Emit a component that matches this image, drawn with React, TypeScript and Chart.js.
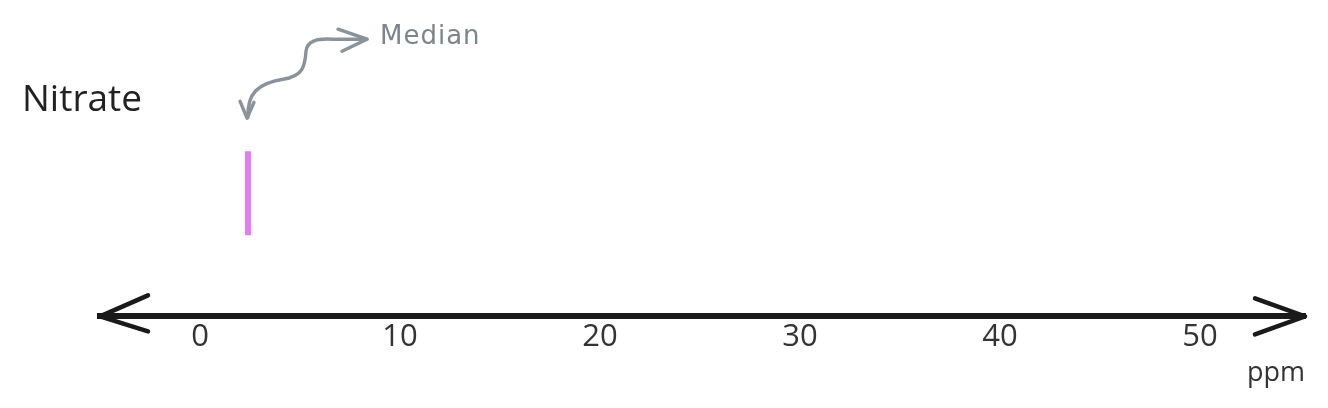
import React, { useEffect, useRef } from "react";
import { Chart, registerables } from "chart.js";

Chart.register(...registerables);

const categories = ["Nitrate"];
const medianValues = [2.4];
const tickValues = [0, 10, 20, 30, 40, 50];
const axisUnit = "ppm";
const annotationText = "Median";
const axisMin = -5;
const axisMax = 55.25;

const FONT = "'Open Sans', 'Noto Sans', sans-serif";

const decorPlugin = {
  id: "decor",
  afterDraw(chart: any) {
    const { ctx, chartArea } = chart;
    ctx.save();
    // axis arrowheads
    const ay = chartArea.bottom;
    ctx.strokeStyle = "#1a1a1a";
    ctx.lineWidth = 4.5;
    ctx.lineCap = "round";
    ctx.lineJoin = "round";
    const l = chartArea.left;
    const r = chartArea.right;
    ctx.beginPath();
    ctx.moveTo(l + 48, ay - 21);
    ctx.lineTo(l, ay);
    ctx.lineTo(l + 48, ay + 15);
    ctx.stroke();
    ctx.beginPath();
    ctx.moveTo(r - 50, ay - 18);
    ctx.lineTo(r, ay);
    ctx.lineTo(r - 50, ay + 18);
    ctx.stroke();

    // category label
    ctx.fillStyle = "#222";
    ctx.font = `37px ${FONT}`;
    ctx.textBaseline = "middle";
    ctx.textAlign = "left";
    ctx.fillText(categories[0], 14, 92);

    // median annotation
    const meta = chart.getDatasetMeta(0);
    const pt = meta.data[0];
    if (pt) {
      const px = pt.x;
      const top = pt.y - 42;
      ctx.strokeStyle = "#8a939a";
      ctx.lineWidth = 3.4;
      ctx.beginPath();
      ctx.moveTo(px, top - 34);
      ctx.bezierCurveTo(px - 1, top - 58, px + 10, top - 68, px + 35, top - 72);
      ctx.bezierCurveTo(px + 55, top - 75, px + 57, top - 85, px + 58, top - 100);
      ctx.bezierCurveTo(px + 59, top - 110, px + 68, top - 113, px + 85, top - 112);
      ctx.lineTo(px + 119, top - 112);
      ctx.stroke();
      // down arrowhead
      ctx.beginPath();
      ctx.moveTo(px - 8, top - 50);
      ctx.lineTo(px - 1, top - 33);
      ctx.lineTo(px + 6, top - 49);
      ctx.stroke();
      // right arrowhead
      ctx.beginPath();
      ctx.moveTo(px + 90, top - 122);
      ctx.lineTo(px + 119, top - 112);
      ctx.lineTo(px + 94, top - 100);
      ctx.stroke();
      ctx.fillStyle = "#7c858c";
      ctx.font = `26px 'DejaVu Sans', sans-serif`;
      (ctx as any).letterSpacing = "1px";
      ctx.textBaseline = "middle";
      ctx.fillText(annotationText, px + 132, top - 114);
    }
    ctx.restore();
  },
};

export default function App() {
  const ref = useRef<HTMLCanvasElement | null>(null);
  useEffect(() => {
    if (!ref.current) return;
    const chart = new Chart(ref.current, {
      type: "scatter",
      data: {
        datasets: [
          {
            label: categories[0],
            data: medianValues.map((v) => ({ x: v, y: 0.5 })),
            pointStyle: "line",
            rotation: 90,
            pointRadius: 42,
            pointHoverRadius: 42,
            borderWidth: 6,
            pointBorderWidth: 6,
            borderColor: "#e879f9",
            backgroundColor: "#e879f9",
          },
        ],
      },
      options: {
        animation: false,
        responsive: true,
        maintainAspectRatio: false,
        layout: { autoPadding: false, padding: { top: 62, left: 92, right: 15, bottom: 10 } },
        plugins: {
          legend: { display: false },
          tooltip: { enabled: false },
          title: { display: false },
        },
        scales: {
          x: {
            type: "linear",
            min: axisMin,
            max: axisMax,
            afterBuildTicks: (scale: any) => {
              scale.ticks = tickValues.map((v) => ({ value: v }));
            },
            afterFit: (scale: any) => {
              scale.paddingLeft = 0;
              scale.paddingRight = 0;
            },
            grid: { display: false, drawTicks: false },
            border: { display: true, color: "#1a1a1a", width: 6 },
            ticks: {
              padding: 2,
              color: "#333",
              font: { family: FONT, size: 31 },
              maxRotation: 0,
              autoSkip: false,
            },
            title: {
              display: true,
              text: axisUnit,
              align: "end",
              color: "#333",
              font: { family: FONT, size: 27 },
              padding: { top: 0, bottom: 0 },
            },
          },
          y: {
            type: "linear",
            display: false,
            min: 0,
            max: 1,
          },
        },
      },
      plugins: [decorPlugin],
    });
    return () => chart.destroy();
  }, []);
  return (
    <div style={{ width: 1312, height: 392 }}>
      <canvas ref={ref} />
    </div>
  );
}
